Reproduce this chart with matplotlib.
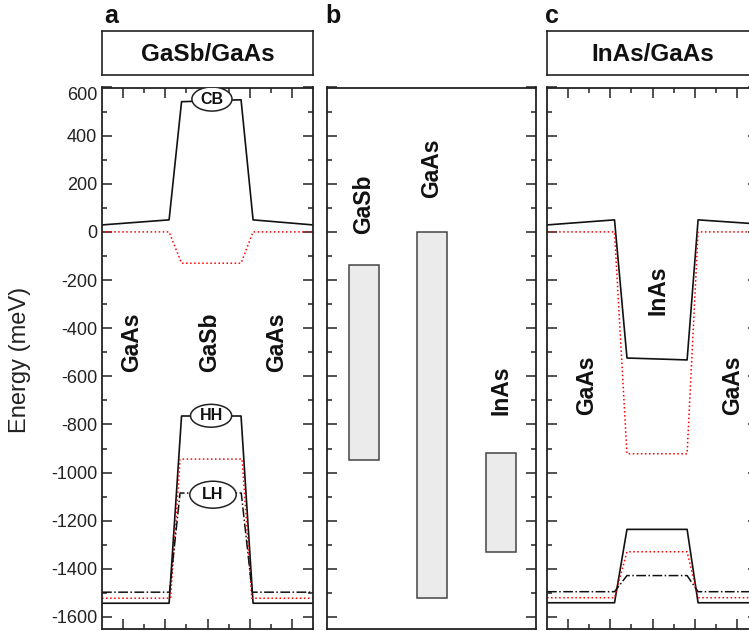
import matplotlib.pyplot as plt
from matplotlib.patches import Ellipse
import numpy as np

plt.rcParams['font.family'] = ['Liberation Sans', 'DejaVu Sans']
plt.rcParams['axes.unicode_minus'] = False

W, H = 749, 631

# ---- data (energies in meV, x in arbitrary position units 0..10) ----
# panel a: GaSb/GaAs
xa = [0, 3.18, 3.77, 6.59, 7.16, 10]
cb_a = [29, 50, 541, 549, 50, 29]
cb_a_red = [0, 0, -130, -130, 0, 0]
xa_red_v = [0, 3.25, 3.70, 6.64, 7.10, 10]
hh_a = [-1543, -1543, -765, -765, -1543, -1543]
vb_a_red = [-1522, -1522, -944, -944, -1522, -1522]
xa_lh = [0, 3.20, 3.70, 6.60, 7.12, 10]
lh_a = [-1497, -1497, -1085, -1085, -1497, -1497]

# band labels in panel a (x, energy, ellipse w, ellipse h)
tags = ['CB', 'HH', 'LH']
tag_x = [5.21, 5.17, 5.26]
tag_y = [552, -764, -1092]
tag_w = [1.9, 1.95, 2.2]
tag_h = [100, 95, 112]

# panel c: InAs/GaAs
xc = [0, 3.20, 3.79, 6.64, 7.16, 10]
cb_c = [29, 50, -524, -532, 50, 33]
cb_c_red = [0, 0, -922, -922, 0, 0]
hh_c = [-1541, -1541, -1236, -1236, -1541, -1541]
vb_c_red = [-1520, -1520, -1329, -1329, -1520, -1520]
lh_c = [-1495, -1495, -1428, -1428, -1495, -1495]

# panel b: band edges of bulk materials
b_names = ['GaSb', 'GaAs', 'InAs']
b_pos = [0.177, 0.502, 0.832]
b_top = [-137, 0, -919]
b_bottom = [-948, -1522, -1331]
b_label_y = [116, 266, -656]

ylim = (-1650, 600)


def px_axes(x0, y0, x1, y1):
    # pixel box (top-left origin) -> figure axes
    return fig.add_axes([x0 / W, 1 - y1 / H, (x1 - x0) / W, (y1 - y0) / H])


def style(ax, xticks=True, ylabels=False):
    ax.set_ylim(*ylim)
    ax.set_yticks(np.arange(-1600, 601, 200))
    ax.set_yticks(np.arange(-1600, 601, 100), minor=True)
    if xticks:
        ax.set_xlim(0, 10)
        ax.set_xticks([1, 3, 5, 7, 9])
        ax.set_xticks([2, 4, 6, 8], minor=True)
    else:
        ax.set_xlim(0, 1)
        ax.set_xticks([])
    ax.tick_params(which='both', direction='in', top=xticks, right=True,
                   bottom=xticks, labelbottom=False, labelleft=ylabels,
                   width=1.1, colors='#222222', labelsize=13, labelcolor='#222222')
    ax.tick_params(which='major', length=7)
    ax.tick_params(which='minor', length=3.5)
    for s in ax.spines.values():
        s.set_linewidth(1.3)
        s.set_color('#222222')


fig = plt.figure(figsize=(W / 100, H / 100), dpi=100)

ax_a = px_axes(102, 87.5, 313, 629)
ax_b = px_axes(327, 87.5, 536, 629)
ax_c = px_axes(547, 87.5, 758, 629)

# ---- panel a ----
style(ax_a, ylabels=True)
ax_a.yaxis.get_major_ticks()[-1].label1.set_verticalalignment('top')
ax_a.plot(xa, cb_a, color='#111111', lw=1.2)
ax_a.plot(xa, cb_a_red, color='red', ls=':', lw=1.1)
ax_a.plot(xa, hh_a, color='#111111', lw=1.2)
ax_a.plot(xa_red_v, vb_a_red, color='red', ls=':', lw=1.1)
ax_a.plot(xa_lh, lh_a, color='#111111', ls='-.', lw=1.1)
for x, t in zip([1.42, 5.12, 8.29], ['GaAs', 'GaSb', 'GaAs']):
    ax_a.text(x, -460, t, rotation=90, ha='center', va='center',
              fontsize=16.5, fontweight='bold', color='#111111')
for t, x, y, w, h in zip(tags, tag_x, tag_y, tag_w, tag_h):
    ax_a.add_patch(Ellipse((x, y), w, h, fc='white', ec='#222222', lw=1.1,
                           zorder=4))
    ax_a.text(x, y, t, ha='center', va='center', fontsize=11.5,
              fontweight='bold', color='#111111', zorder=5)

# ---- panel b ----
style(ax_b, xticks=False)
ax_b.bar(b_pos, np.array(b_top) - np.array(b_bottom), bottom=b_bottom,
         width=0.144, color='#ebebeb', edgecolor='#444444', lw=1.1)
for x, y, t in zip(b_pos, b_label_y, b_names):
    ax_b.text(x, y, t, rotation=90, ha='center', va='center',
              fontsize=16.5, fontweight='bold', color='#111111')

# ---- panel c ----
style(ax_c)
ax_c.plot(xc, cb_c, color='#111111', lw=1.2)
ax_c.plot(xc, cb_c_red, color='red', ls=':', lw=1.1)
ax_c.plot(xc, hh_c, color='#111111', lw=1.2)
ax_c.plot(xc, vb_c_red, color='red', ls=':', lw=1.1)
ax_c.plot(xc, lh_c, color='#111111', ls='-.', lw=1.1)
ax_c.text(5.26, -243, 'InAs', rotation=90, ha='center', va='center',
          fontsize=16.5, fontweight='bold', color='#111111')
for x in [1.9, 8.8]:
    ax_c.text(x, -636, 'GaAs', rotation=90, ha='center', va='center',
              fontsize=16.5, fontweight='bold', color='#111111')

# ---- title boxes ----
for x0, x1, t in [(102, 313, 'GaSb/GaAs'), (547, 758, 'InAs/GaAs')]:
    tb = px_axes(x0, 31, x1, 75)
    tb.set_xticks([])
    tb.set_yticks([])
    for s in tb.spines.values():
        s.set_linewidth(1.2)
        s.set_color('#222222')
    tb.text(0.5, 0.47, t, ha='center', va='center', fontsize=17.5,
            fontweight='bold', color='#111111', transform=tb.transAxes)

# ---- panel letters and y label ----
for x, t in [(104, 'a'), (325, 'b'), (545, 'c')]:
    fig.text(x / W, 1 - 23 / H, t, fontsize=18, fontweight='bold',
             ha='left', va='baseline', color='#111111')

fig.text(20 / W, 1 - 360 / H, 'Energy (meV)', rotation=90, ha='center',
         va='center', fontsize=17, color='#222222')

fig.savefig('out.png', dpi=100)
